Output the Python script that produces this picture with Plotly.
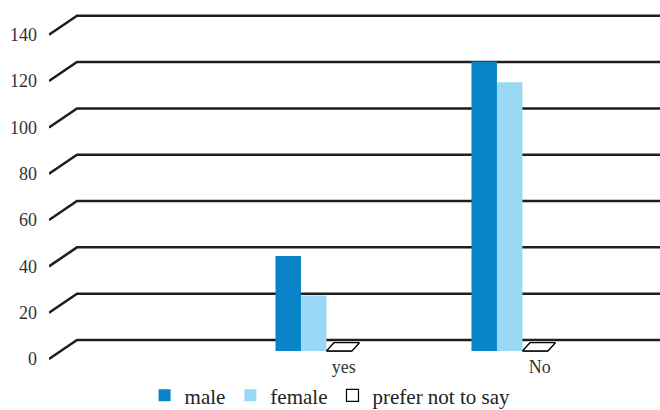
import plotly.graph_objects as go

# ---- data -------------------------------------------------------------
categories = ["yes", "No"]
male = [41, 125]
female = [24, 116]
prefer_not_to_say = [0, 0]
y_ticks = [0, 20, 40, 60, 80, 100, 120, 140]

# ---- geometry of the pseudo-3D frame ------------------------------------
PX_PER_X = 196.0          # pixels per category step
PX_PER_Y = 2.316          # pixels per value unit
FRONT_OFF = -8.0 / PX_PER_Y   # front edge of the floor, relative to bar base
BACK_OFF = 11.0 / PX_PER_Y    # back wall, relative to bar base
DEPTH_X = 28.0 / PX_PER_X     # horizontal run of the receding edge
X_RANGE = [1 - 264.7 / PX_PER_X, 1 + 346.3 / PX_PER_X]
Y_RANGE = [-11.0 / PX_PER_Y, 351.0 / PX_PER_Y]
BARGAP = 0.61
BAR_W = (1 - BARGAP) / 3

FONT = "Times New Roman, Liberation Serif, DejaVu Serif, serif"
MALE_C = "#0A84C8"
FEMALE_C = "#9AD9F5"
GRID_C = "#1E1E1E"

xpos = list(range(1, len(categories) + 1))

fig = go.Figure()

fig.add_trace(go.Bar(name="male", x=xpos, y=male,
                     marker=dict(color=MALE_C, line=dict(width=0))))
fig.add_trace(go.Bar(name="female", x=xpos, y=female,
                     marker=dict(color=FEMALE_C, line=dict(width=0))))
fig.add_trace(go.Bar(name="prefer not to say", x=xpos, y=prefer_not_to_say,
                     legendgroup="pnts",
                     marker=dict(color="white", line=dict(color="black", width=1.2))))

# top face of the flat (zero-height) third column, seen in perspective
face_dx = 7.5 / PX_PER_X
face_dy = 8.3 / PX_PER_Y
px, py = [], []
for xi, v in zip(xpos, prefer_not_to_say):
    left = xi + 0.5 * BAR_W
    right = xi + 1.5 * BAR_W
    px += [left, right, right + face_dx, left + face_dx, left, None]
    py += [v, v, v + face_dy, v + face_dy, v, None]
fig.add_trace(go.Scatter(x=px, y=py, mode="lines", fill="toself",
                         fillcolor="white", line=dict(color="black", width=1.3),
                         legendgroup="pnts", showlegend=False, hoverinfo="skip"))

# gridlines: a receding segment on the side wall, then along the back wall
shapes = []
for v in y_ticks:
    x0 = X_RANGE[0]
    path = (f"M{x0},{v + FRONT_OFF} L{x0 + DEPTH_X},{v + BACK_OFF} "
            f"L{X_RANGE[1] + 0.05},{v + BACK_OFF}")
    shapes.append(dict(type="path", path=path, xref="x", yref="y",
                       line=dict(color=GRID_C, width=2.5), layer="below"))

fig.update_layout(
    width=660, height=410,
    margin=dict(l=49, r=0, t=0, b=48, autoexpand=False),
    paper_bgcolor="white", plot_bgcolor="white",
    barmode="group", bargap=BARGAP, bargroupgap=0,
    shapes=shapes,
    font=dict(family=FONT, color="#333333", size=18),
    showlegend=True,
    legend=dict(orientation="h", x=0.46, xanchor="center",
                y=-0.093, yanchor="middle",
                font=dict(family=FONT, size=21, color="#222222"),
                traceorder="normal", bgcolor="rgba(0,0,0,0)"),
)

fig.update_xaxes(range=X_RANGE, tickvals=xpos, ticktext=categories,
                 showgrid=False, zeroline=False, showline=False, ticks="",
                 ticklabelshift=30, ticklabelstandoff=-8,
                 fixedrange=True, automargin=False,
                 tickfont=dict(family=FONT, size=18, color="#333333"))
fig.update_yaxes(range=Y_RANGE,
                 tickvals=[v + FRONT_OFF for v in y_ticks],
                 ticktext=[str(v) for v in y_ticks],
                 showgrid=False, zeroline=False, showline=False, ticks="",
                 ticklabelstandoff=11, fixedrange=True, automargin=False,
                 tickfont=dict(family=FONT, size=18, color="#333333"))

fig.write_html("out.html")
